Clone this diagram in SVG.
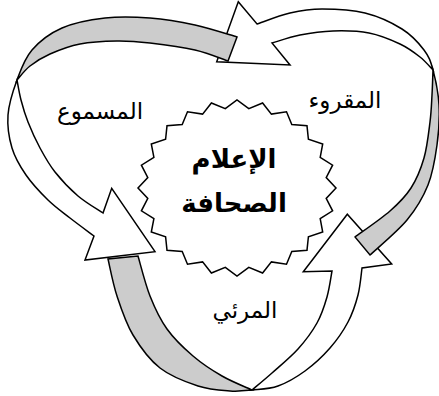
<svg xmlns="http://www.w3.org/2000/svg" width="439" height="396" viewBox="0 0 439 396">
<style>
.ln{stroke:#000;stroke-width:1.5;stroke-linejoin:miter;stroke-miterlimit:10}
.back{fill:#cccccc}
.front{fill:#ffffff}
.lbl{font-family:"DejaVu Sans",sans-serif;font-size:23px;fill:#000;text-anchor:middle}
.ctr{font-family:"DejaVu Sans",sans-serif;font-size:26px;font-weight:bold;fill:#000;text-anchor:middle}
</style>
<rect width="439" height="396" fill="#fff"/>
<g id="center">
<polygon class="ln front" points="336,188 326.2,198.4 332.6,210.8 320.2,218.6 322.7,232 308.4,236.7 307,250.2 291.8,251.5 286.5,264.2 271.4,261.9 262.6,273 248.8,267.3 237,276 225.3,267.3 211.4,273 202.6,261.9 187.5,264.2 182.2,251.5 167,250.2 165.6,236.7 151.3,232 153.9,218.6 141.4,210.8 147.8,198.4 138,188 147.8,177.6 141.4,165.2 153.9,157.4 151.3,144 165.6,139.3 167,125.8 182.2,124.5 187.5,111.8 202.6,114.1 211.4,103 225.3,108.7 237,100 248.8,108.7 262.6,103 271.4,114.1 286.5,111.8 291.8,124.5 307,125.8 308.4,139.3 322.7,144 320.2,157.4 332.6,165.2 326.2,177.6"/>
<text class="ctr" x="234" y="168">الإعلام</text>
<text class="ctr" x="234" y="212">الصحافة</text>
</g>
<g id="connectors">
<g id="arrow-bottom">
<path class="ln back" d="M108,259 C109.5,265.17 112.83,283.33 117,296 C121.17,308.67 125.830,323 133,335 C140.17,347 149.17,359.5 160,368 C170.83,376.5 186.33,382.17 198,386 C209.67,389.83 221,390.33 230,391 C239,391.67 244,390.83 252,390 C247,387.67 231.83,381.67 222,376 C212.17,370.33 202.17,363.83 193,356 C183.83,348.17 174.17,339 167,329 C159.83,319 154.83,308.17 150,296 C145.17,283.83 140,262.67 138,256 Z"/>
<path class="ln front" d="M252,390 C260,389.17 269.17,389.17 278,386 C286.83,382.83 296.33,377.33 305,371 C313.67,364.67 322.83,356.17 330,348 C337.17,339.83 343.33,330.83 348,322 C352.67,313.17 355.67,304 358,295 C360.33,286 361.33,272.5 362,268 L391.7,264 L347.3,214.3 L303.3,271.7 L332,271 C331.17,275.33 329.5,288.33 327,297 C324.5,305.67 321.83,314.33 317,323 C312.17,331.67 305.5,340.67 298,349 C290.5,357.33 279.67,366.17 272,373 C264.33,379.83 255.33,387.17 252,390 Z"/>
</g>
<g id="arrow-right">
<path class="ln front" d="M257,24 C262.5,22.17 279.17,15.5 290,13 C300.83,10.5 309.5,9 322,9 C334.5,9 351.67,9.67 365,13 C378.33,16.33 392.17,22.83 402,29 C411.83,35.17 418.83,43.17 424,50 C429.17,56.83 430.5,60.83 433,70 C430.83,67.83 425.5,61.33 420,57 C414.5,52.67 408.5,48 400,44 C391.5,40 380.17,35.17 369,33 C357.83,30.83 344.5,30.67 333,31 C321.5,31.33 310.17,33 300,35 C289.83,37 276.67,41.67 272,43 L290,65 L216.7,61.7 L238.3,1.7 Z"/>
<path class="ln back" d="M433,70 C435.5,79.17 438.33,92.5 439,105 C439.67,117.5 438.83,131.67 437,145 C435.17,158.33 433,172.5 428,185 C423,197.5 416.67,208.33 407,220 C397.33,231.67 376.17,249.17 370,255 L355,237 C360.83,232.67 380.67,219.17 390,211 C399.33,202.83 405.33,196.83 411,188 C416.67,179.17 420.83,169 424,158 C427.17,147 428.67,132.5 430,122 C431.33,111.5 431.5,103.67 432,95 C432.5,86.33 432.83,74.17 433,70 Z"/>
</g>
<g id="arrow-left">
<path class="ln back" d="M237,37 C230,35 209.5,28.17 195,25 C180.5,21.83 165,19.17 150,18 C135,16.83 119.67,16.33 105,18 C90.33,19.67 74.17,22.67 62,28 C49.83,33.33 39.5,41.33 32,50 C24.5,58.67 21,69.17 17,80 C19.17,77.67 24.5,70.33 30,66 C35.5,61.67 41.67,57.67 50,54 C58.33,50.33 68.83,46.17 80,44 C91.17,41.83 105.33,41.17 117,41 C128.67,40.83 137,41.5 150,43 C163,44.5 182,47 195,50 C208,53 222.5,59.17 228,61 Z"/>
<path class="ln front" d="M17,80 C13,90.83 8.83,103.67 8,115 C7.17,126.33 9,138 12,148 C15,158 20,166.33 26,175 C32,183.67 40.67,192.83 48,200 C55.33,207.17 62.33,212 70,218 C77.67,224 90,233 94,236 L85,260 L155,251.7 L111.7,188.3 L103,213 C98.83,210.17 86,202.83 78,196 C70,189.17 61.33,180 55,172 C48.67,164 44.5,156.33 40,148 C35.5,139.67 31.17,130 28,122 C24.83,114 22.83,107 21,100 C19.17,93 17.67,83.33 17,80 Z"/>
</g>
</g>
<g id="label-masmoo"><text class="lbl" x="100" y="119">المسموع</text></g>
<g id="label-maqroo"><text class="lbl" x="345" y="108">المقروء</text></g>
<g id="label-marai"><text class="lbl" x="245" y="318">المرئي</text></g>
</svg>
